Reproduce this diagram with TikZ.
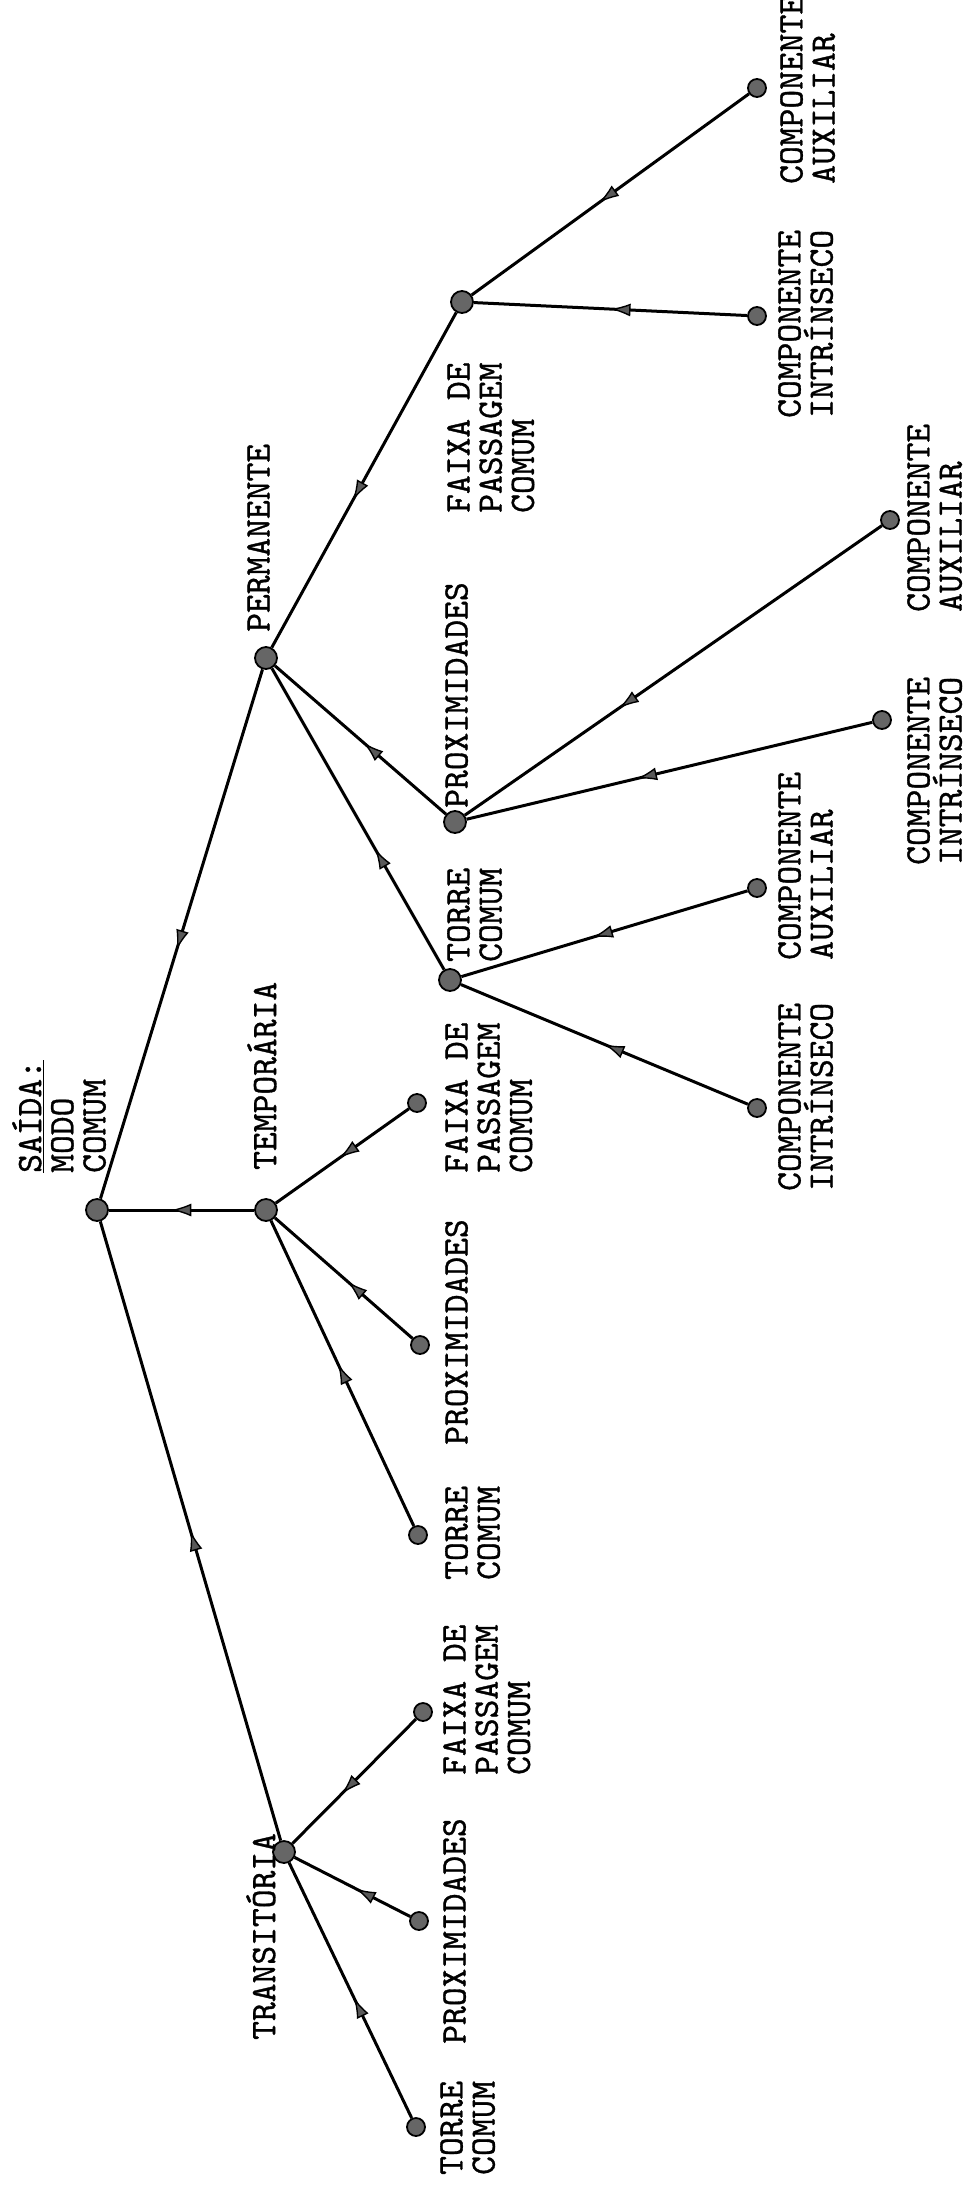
\documentclass[tikz,border=0pt]{standalone}
\usepackage{fontspec}
\usetikzlibrary{arrows.meta,decorations.markings}
\newfontfamily\lblfamily[FakeBold=0.9]{lmmono10-regular.otf}
\newcommand\lblfont{\fontsize{35.8}{32.2}\selectfont\lblfamily}
\tikzset{
  dot/.style={circle, draw, line width=1.8pt, fill=black!60, minimum size=22pt, inner sep=0pt},
  leaf/.style={dot, minimum size=18pt},
  lbl/.style={rotate=90, anchor=north west, inner sep=0pt, align=left, font=\lblfont},
  flow/.style={line width=3pt, postaction={decorate},
    decoration={markings, mark=at position #1 with {\arrow{Latex[length=20pt,width=13pt,fill=black!65,line width=1.4pt]}}}},
  flow/.default=0.5
}
\begin{document}
\begin{tikzpicture}[x=1pt,y=-1pt]
\useasboundingbox (0,0) rectangle (968,2193);
\node[dot] (sd0) at (97,1210){};
\node[lbl] (lsd0) at (12,1173){\underline{SAÍDA:}\\MODO\\COMUM};
\node[dot] (tp0) at (266,1210){};
\node[lbl] (ltp0) at (247,1170){TEMPORÁRIA};
\node[leaf] (tp1) at (417,1103){};
\node[lbl] (ltp1) at (445,1173){FAIXA DE\\PASSAGEM\\COMUM};
\node[leaf] (tp2) at (420,1345){};
\node[lbl] (ltp2) at (445,1445){PROXIMIDADES};
\node[leaf] (tp3) at (418,1535){};
\node[lbl] (ltp3) at (445,1580){TORRE\\COMUM};
\draw[flow=0.52](tp1) -- (tp0);
\draw[flow=0.47](tp2) -- (tp0);
\draw[flow=0.53](tp3) -- (tp0);
\draw[flow=0.57](tp0) -- (sd0);
\node[dot] (pm0) at (266,658){};
\node[lbl] (lpm0) at (247,632){PERMANENTE};
\node[dot] (pm1) at (462,302){};
\node[lbl] (lpm1) at (447,513){FAIXA DE\\PASSAGEM\\COMUM};
\node[leaf] (pm11) at (757,88){};
\node[lbl] (lpm11) at (780,184){COMPONENTE\\AUXILIAR};
\node[leaf] (pm12) at (757,316){};
\node[lbl] (lpm12) at (778,418){COMPONENTE\\INTRÍNSECO};
\draw[flow=0.54](pm11) -- (pm1);
\draw[flow=0.5](pm12) -- (pm1);
\node[dot] (pm2) at (455,822){};
\node[lbl] (lpm2) at (445,808){PROXIMIDADES};
\node[leaf] (pm21) at (890,520){};
\node[lbl] (lpm21) at (907,612){COMPONENTE\\AUXILIAR};
\node[leaf] (pm22) at (882,720){};
\node[lbl] (lpm22) at (907,865){COMPONENTE\\INTRÍNSECO};
\draw[flow=0.63](pm21) -- (pm2);
\draw[flow=0.58](pm22) -- (pm2);
\node[dot] (pm3) at (450,980){};
\node[lbl] (lpm3) at (447,962){TORRE\\COMUM};
\node[leaf] (pm31) at (757,888){};
\node[lbl] (lpm31) at (778,960){COMPONENTE\\AUXILIAR};
\node[leaf] (pm32) at (757,1108){};
\node[lbl] (lpm32) at (778,1191){COMPONENTE\\INTRÍNSECO};
\draw[flow=0.54](pm31) -- (pm3);
\draw[flow=0.5](pm32) -- (pm3);
\draw[flow=0.56](pm1) -- (pm0);
\draw[flow=0.48](pm2) -- (pm0);
\draw[flow=0.4](pm3) -- (pm0);
\draw[flow=0.53](pm0) -- (sd0);
\node[dot] (tr0) at (284,1852){};
\node[lbl] (ltr0) at (246,2040){TRANSITÓRIA};
\node[leaf] (tr1) at (423,1712){};
\node[lbl] (ltr1) at (443,1775){FAIXA DE\\PASSAGEM\\COMUM};
\node[leaf] (tr2) at (419,1921){};
\node[lbl] (ltr2) at (443,2044){PROXIMIDADES};
\node[leaf] (tr3) at (416,2127){};
\node[lbl] (ltr3) at (440,2175){TORRE\\COMUM};
\draw[flow=0.6](tr1) -- (tr0);
\draw[flow=0.47](tr2) -- (tr0);
\draw[flow=0.47](tr3) -- (tr0);
\draw[flow=0.5](tr0) -- (sd0);
\end{tikzpicture}
\end{document}
